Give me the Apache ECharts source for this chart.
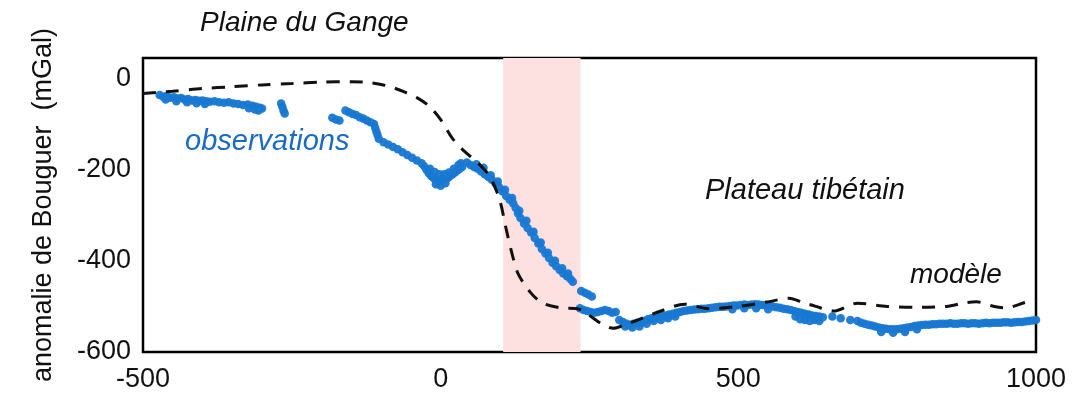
<!DOCTYPE html>
<html>
<head>
<meta charset="utf-8">
<script src="https://cdn.jsdelivr.net/npm/echarts@6/dist/echarts.min.js"></script>
<style>
  html, body { margin: 0; padding: 0; background: #fff; }
  #main { width: 1074px; height: 397px; }
</style>
</head>
<body>
<div id="main"></div>
<script>
// axis settings
var xTicks = [-500, 0, 500, 1000];
var yTicks = [-600, -400, -200, 0];

// highlighted zone (distance, km)
var zone = [105, 235];

// model curve (dashed)
var modelX = [-500, -450, -400, -350, -300, -250, -200, -150, -120, -100, -80, -60, -40, -20, 0, 20, 40, 60, 80, 90,
    100, 110, 120, 130, 150, 170, 200, 230, 250, 270, 290, 310, 340, 370, 410, 450, 500, 550, 585, 610,
    630, 660, 700, 750, 800, 850, 880, 900, 930, 950, 980, 1000];
var modelY = [-33, -28, -22, -18, -14, -11, -8, -7, -9, -13, -20, -30, -42, -60, -90, -132, -160, -182, -210, -235,
    -270, -330, -385, -428, -468, -492, -503, -505, -520, -538, -548, -540, -525, -510, -495, -505, -500, -490, -482, -492,
    -500, -510, -493, -500, -502, -500, -492, -490, -500, -503, -492, -486];

// observations [distance, anomaly]
var obsPoints = [
    [-472, -36], [-466, -40], [-460, -38], [-454, -42], [-448, -41], [-442, -44], [-436, -43], [-430, -46], [-424, -45],
    [-418, -48], [-412, -47], [-406, -49], [-400, -48], [-394, -50], [-388, -51], [-380, -50], [-372, -52], [-364, -53],
    [-356, -52], [-348, -55], [-340, -56], [-332, -58], [-324, -57], [-316, -60], [-310, -62], [-304, -64], [-300, -66],
    [-462, -46], [-444, -50], [-426, -52], [-410, -54], [-396, -56], [-322, -65], [-312, -68], [-306, -70],
    [-268, -55], [-266, -62], [-264, -70], [-262, -77],
    [-182, -86], [-176, -90], [-170, -92],
    [-160, -70], [-154, -74], [-148, -78], [-142, -80], [-136, -85], [-130, -88], [-124, -92], [-118, -96],
    [-112, -100], [-110, -108], [-108, -116], [-106, -124], [-104, -132],
    [-96, -140], [-88, -145], [-80, -150], [-72, -155], [-64, -162], [-56, -168], [-48, -174], [-40, -180], [-32, -186],
    [-28, -192], [-24, -200], [-20, -208], [-16, -214], [-12, -218], [-8, -222], [-4, -224], [0, -224], [4, -222],
    [8, -220], [12, -218], [16, -214], [20, -210], [24, -206], [28, -202], [32, -198], [36, -194],
    [-18, -198], [-10, -205], [-2, -210], [6, -210], [14, -206], [22, -198], [30, -190], [34, -186], [0, -235], [-8, -232], [8, -230],
    [44, -184], [50, -190], [56, -194], [62, -198], [68, -204], [74, -210], [80, -216], [86, -222], [92, -230], [98, -238],
    [104, -248], [110, -258], [116, -266], [122, -274], [126, -284], [130, -296], [134, -306], [140, -318], [146, -328],
    [152, -338], [158, -350], [164, -362], [170, -374], [176, -384], [182, -394], [188, -404], [194, -412], [200, -420],
    [206, -428], [212, -434], [218, -440], [222, -446],
    [60, -188], [72, -196], [84, -212], [96, -226], [108, -244], [120, -262], [132, -290], [144, -312], [156, -336],
    [168, -360], [180, -382], [192, -400], [204, -416], [214, -428],
    [236, -466], [242, -470], [248, -474], [254, -478],
    [234, -504], [240, -508], [246, -510], [252, -512], [258, -514], [264, -512], [270, -510], [276, -508], [282, -510],
    [288, -514], [294, -512],
    [300, -530], [306, -534], [312, -538], [318, -540], [324, -538], [330, -536], [336, -534], [342, -532], [348, -528],
    [354, -526], [360, -524], [366, -522], [372, -521], [378, -520], [384, -518], [390, -516], [396, -514], [402, -512],
    [408, -510], [414, -509], [420, -508], [426, -507], [432, -506], [438, -505], [444, -505], [450, -504], [456, -503],
    [462, -502], [468, -501], [474, -501], [480, -500], [486, -499], [492, -498], [498, -498], [504, -497], [510, -496],
    [516, -497], [522, -496], [528, -495], [534, -496], [540, -497], [546, -497], [552, -498], [558, -500], [564, -502],
    [570, -503], [576, -505], [582, -506], [588, -508], [594, -510], [600, -512], [606, -514], [612, -516], [618, -518],
    [624, -520], [630, -521], [636, -522], [642, -524],
    [310, -544], [322, -546], [334, -544], [346, -538], [358, -532], [370, -530], [382, -526], [394, -522],
    [490, -506], [510, -504], [530, -504], [550, -506],
    [596, -522], [604, -528], [612, -530], [620, -532], [628, -530], [636, -532],
    [658, -522], [672, -526], [688, -530],
    [700, -532], [706, -536], [712, -538], [718, -540], [724, -542], [730, -544], [736, -546], [742, -548], [748, -549],
    [754, -550], [760, -550], [766, -550], [772, -549], [778, -548], [784, -546], [790, -545], [796, -543], [802, -542],
    [808, -541], [814, -540], [820, -540], [826, -539], [832, -539], [838, -538], [844, -538], [850, -538], [856, -537],
    [862, -538], [868, -538], [874, -537], [880, -537], [886, -538], [892, -537], [898, -537], [904, -538], [910, -537],
    [916, -536], [922, -537], [928, -536], [934, -536], [940, -536], [946, -535], [952, -535], [958, -536], [964, -535],
    [970, -534], [976, -534], [982, -533], [988, -532], [994, -531], [1000, -530],
    [740, -556], [760, -558], [780, -556], [800, -550]
];

function zipXY(xs, ys) {
    var out = [];
    for (var i = 0; i < xs.length; i++) {
        out.push([xs[i], ys[i]]);
    }
    return out;
}

var chart = echarts.init(document.getElementById('main'));
var font = 'Liberation Sans, Arial, Helvetica, sans-serif';

var option = {
    animation: false,
    grid: {
        left: 143, right: 38, top: 58, bottom: 45,
        show: true, borderColor: '#000', borderWidth: 2.5, backgroundColor: 'transparent'
    },
    xAxis: {
        type: 'value', min: -500, max: 1000, interval: 500,
        axisLine: { show: false }, axisTick: { show: false }, splitLine: { show: false },
        axisLabel: { fontFamily: font, fontSize: 27, color: '#111', margin: 14,
            formatter: function (v) { return xTicks.indexOf(v) >= 0 ? String(v) : ''; } }
    },
    yAxis: {
        type: 'value', min: -600, max: 45, interval: 200,
        name: 'anomalie de Bouguer  (mGal)', nameLocation: 'middle', nameRotate: 90, nameGap: 86,
        nameTextStyle: { fontFamily: font, fontSize: 27, color: '#111' },
        axisLine: { show: false }, axisTick: { show: false }, splitLine: { show: false },
        axisLabel: { fontFamily: font, fontSize: 27, color: '#111', margin: 12,
            formatter: function (v) { return yTicks.indexOf(v) >= 0 ? String(v) : ''; } }
    },
    series: [
        {
            type: 'line', data: zipXY(modelX, modelY), symbol: 'none', smooth: 0.3, z: 3,
            lineStyle: { color: '#111', width: 3, type: [13, 10] },
            markArea: {
                silent: true,
                itemStyle: { color: '#fde1e1' },
                data: [[{ xAxis: zone[0] }, { xAxis: zone[1] }]]
            }
        },
        {
            type: 'scatter', data: obsPoints, symbolSize: 8.5, z: 2,
            itemStyle: { color: '#1878d2', opacity: 0.95 }
        }
    ],
    graphic: [
        { type: 'text', left: 200, top: 9, style: { text: 'Plaine du Gange', font: 'italic 28px ' + font, fill: '#111' } },
        { type: 'text', left: 185, top: 127, style: { text: 'observations', font: 'italic 29px ' + font, fill: '#1a6cc0' } },
        { type: 'text', left: 705, top: 176, style: { text: 'Plateau tibétain', font: 'italic 29px ' + font, fill: '#111' } },
        { type: 'text', left: 910, top: 261, style: { text: 'modèle', font: 'italic 28px ' + font, fill: '#111' } }
    ]
};

chart.setOption(option);
</script>
</body>
</html>
